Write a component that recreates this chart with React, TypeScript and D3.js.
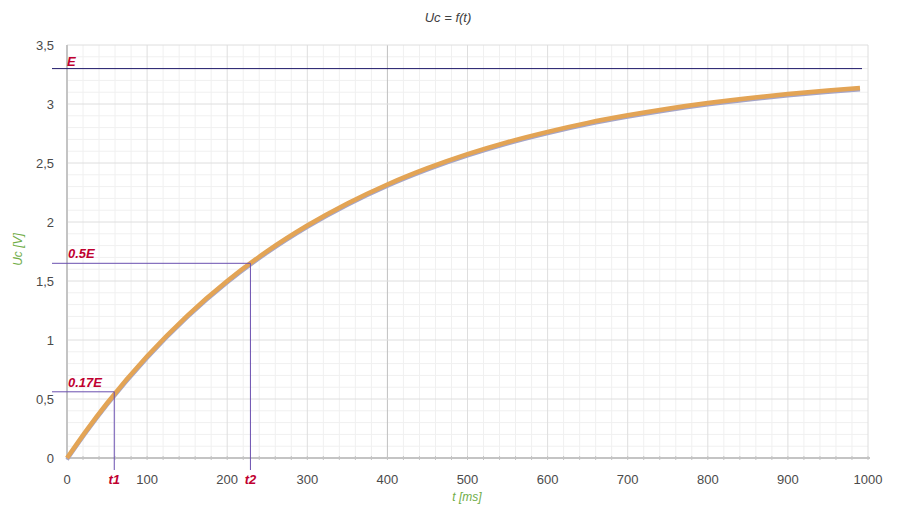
import React from "react";
import * as d3 from "d3";

const timeMs = [0, 25, 50, 100, 150, 200, 250, 300, 350, 400, 450, 500, 550, 600, 650, 700, 750, 800, 850, 900, 950, 990];
const ucVolts = [0, 0.241, 0.464, 0.862, 1.205, 1.5, 1.753, 1.97, 2.157, 2.318, 2.456, 2.575, 2.677, 2.764, 2.84, 2.904, 2.96, 3.008, 3.049, 3.084, 3.115, 3.136];
const xTicks = [0, 100, 200, 300, 400, 500, 600, 700, 800, 900, 1000];
const yTicks = [0, 0.5, 1, 1.5, 2, 2.5, 3, 3.5];
const yTickLabels = ["0", "0,5", "1", "1,5", "2", "2,5", "3", "3,5"];
const E = 3.3;
const markers = [
  { label: "0.17E", value: 0.561, t: 59, tLabel: "t1" },
  { label: "0.5E", value: 1.65, t: 229, tLabel: "t2" },
];

const W = 897;
const H = 510;
const left = 67;
const right = 868;
const top = 45;
const bottom = 458;

export default function App() {
  const x = d3.scaleLinear().domain([0, 1000]).range([left, right]);
  const y = d3.scaleLinear().domain([0, 3.5]).range([bottom, top]);
  const pts = timeMs.map((t, i) => [t, ucVolts[i]] as [number, number]);
  const line = d3.line<[number, number]>().x(d => x(d[0])).y(d => y(d[1])).curve(d3.curveMonotoneX);
  const minorX = d3.range(0, 1001, 20).filter(v => v % 100 !== 0);
  const minorY = d3.range(0, 36, 1).map(v => v / 10).filter(v => Math.round(v * 10) % 5 !== 0);
  const font = "'Liberation Sans', Arial, sans-serif";
  return (
    <svg width={W} height={H} style={{ position: "absolute", left: 0, top: 0, background: "#fff" }}>
      <rect width={W} height={H} fill="#fff" />
      <text x={448} y={22} textAnchor="middle" fontFamily={font} fontStyle="italic" fontSize={13} fill="#404040">Uc = f(t)</text>
      {minorX.map(v => (
        <line key={"mx" + v} x1={x(v)} x2={x(v)} y1={top} y2={bottom} stroke="#f0f0f0" strokeWidth={1} />
      ))}
      {minorY.map(v => (
        <line key={"my" + v} x1={left} x2={right} y1={y(v)} y2={y(v)} stroke="#f0f0f0" strokeWidth={1} />
      ))}
      {xTicks.map(v => (
        <line key={"gx" + v} x1={x(v)} x2={x(v)} y1={top} y2={bottom} stroke={v === 400 ? "#c0c0c0" : "#dedede"} strokeWidth={1} />
      ))}
      {yTicks.map(v => (
        <line key={"gy" + v} x1={left} x2={right} y1={y(v)} y2={y(v)} stroke="#dedede" strokeWidth={1} />
      ))}
      <line x1={left} x2={left} y1={top} y2={bottom} stroke="#c4c4c4" strokeWidth={2} />
      <line x1={left} x2={right + 2} y1={bottom} y2={bottom} stroke="#c4c4c4" strokeWidth={2} />
      {d3.range(0, 1001, 20).map(v => (
        <line key={"tx" + v} x1={x(v)} x2={x(v)} y1={bottom - 2} y2={bottom + 2} stroke="#c4c4c4" strokeWidth={1} />
      ))}
      {xTicks.map(v => (
        <text key={"lx" + v} x={x(v)} y={bottom + 26} textAnchor="middle" fontFamily={font} fontSize={13} fill="#4a4a4a">{v}</text>
      ))}
      {yTicks.map((v, i) => (
        <text key={"ly" + v} x={left - 13} y={y(v) + 5} textAnchor="end" fontFamily={font} fontSize={13} fill="#4a4a4a">{yTickLabels[i]}</text>
      ))}
      <text transform={`translate(22,${(top + bottom) / 2 - 2}) rotate(-90)`} textAnchor="middle" fontFamily={font} fontStyle="italic" fontSize={12} fill="#70ad47">Uc [V]</text>
      <text x={467} y={501} textAnchor="middle" fontFamily={font} fontStyle="italic" fontSize={12} fill="#70ad47">t [ms]</text>
      <path d={line(pts) ?? ""} fill="none" stroke="#a5a5c8" strokeWidth={4} transform="translate(0,1.5)" />
      <path d={line(pts) ?? ""} fill="none" stroke="#e3a455" strokeWidth={4.5} />
      <line x1={52} x2={862} y1={y(E)} y2={y(E)} stroke="#1f1a6a" strokeWidth={1} />
      <text x={67} y={y(E) - 3} fontFamily={font} fontStyle="italic" fontWeight="bold" fontSize={13} fill="#c00030">E</text>
      {markers.map(m => (
        <g key={m.label}>
          <polyline points={`52,${y(m.value)} ${x(m.t)},${y(m.value)} ${x(m.t)},${bottom + 12}`} fill="none" stroke="#6a4fb0" strokeWidth={1} />
          <text x={68} y={y(m.value) - 5} fontFamily={font} fontStyle="italic" fontWeight="bold" fontSize={13} fill="#c00030">{m.label}</text>
          <text x={x(m.t)} y={bottom + 26} textAnchor="middle" fontFamily={font} fontStyle="italic" fontWeight="bold" fontSize={13} fill="#c00030">{m.tLabel}</text>
        </g>
      ))}
    </svg>
  );
}
